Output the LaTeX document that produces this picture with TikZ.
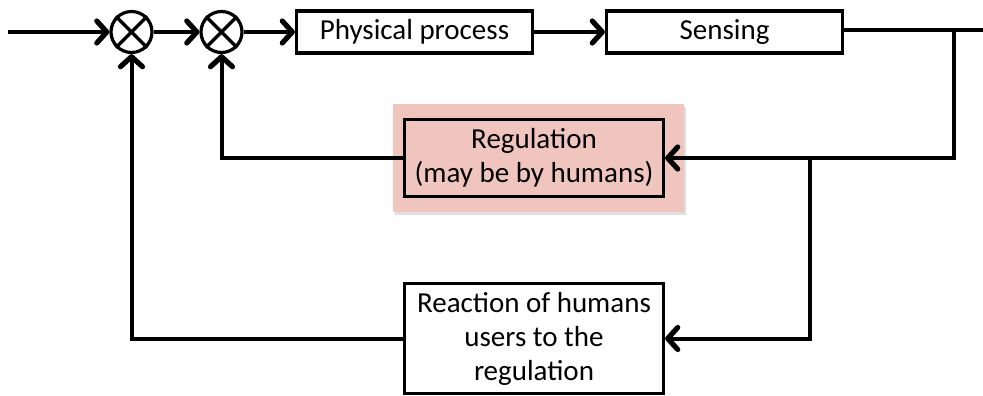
\documentclass[tikz,border=0pt]{standalone}
\usepackage{fontspec}
\setmainfont{Carlito}
\usetikzlibrary{arrows.meta,shadows,backgrounds,calc}
\definecolor{regpink}{RGB}{240,197,189}

\begin{document}
\begin{tikzpicture}[x=1pt,y=-1pt,line width=3pt,
  >={Straight Barb[length=10pt,width=22pt,line width=0pt 1.3,round]},
  sumjn/.style={circle,draw,line width=3.2pt,minimum size=41pt,inner sep=0pt},
  blockbox/.style={draw,line width=3.2pt,align=center,inner sep=0pt,
    font=\fontsize{29}{34}\selectfont},
  wire/.style={line width=4pt},
  link/.style={wire,->}]
  \useasboundingbox (0,0) rectangle (983,396);
  \coordinate (in) at (8,32);
  \node[sumjn] (s1) at (131.5,32) {};
  \node[sumjn] (s2) at (221.5,32) {};
  \foreach \s in {s1,s2}
    \draw[line width=3.2pt] (\s.north west) -- (\s.south east)
      (\s.north east) -- (\s.south west);
  \node[blockbox,minimum width=236pt,minimum height=42pt] (phys) at (414.5,32) {Physical process};
  \node[blockbox,minimum width=236pt,minimum height=42pt] (sens) at (724.5,32) {Sensing};
  \node[blockbox,minimum width=259pt,minimum height=77pt] (reg) at (534,158) {Regulation\\(may be by humans)};
  \node[blockbox,minimum width=259pt,minimum height=110pt] (react) at (534,338.5) {Reaction of humans\\users to the\\regulation};
  \begin{scope}[on background layer]
    \fill[regpink,drop shadow={shadow xshift=2pt,shadow yshift=-3pt,opacity=0.25}]
      ($(reg.north west)+(-10,-14)$) rectangle ($(reg.south east)+(19,14)$);
  \end{scope}
  \coordinate (out) at (995,30);
  \coordinate (t1) at (954,30);
  \coordinate (t2) at (809.5,158);
  % forward path
  \draw[link] (in) -- (s1.west);
  \draw[link] (s1.east) -- (s2.west);
  \draw[link] (s2.east) -- (phys.west);
  \draw[link] (phys.east) -- (sens.west);
  \draw[wire] (sens.east |- out) -- (out);
  % feedback paths
  \draw[link] (t1) |- (reg.east);
  \draw[link] (t2) |- (react.east);
  \draw[link] (reg.west) -| (s2.south);
  \draw[link] (react.west) -| (s1.south);
\end{tikzpicture}
\end{document}
